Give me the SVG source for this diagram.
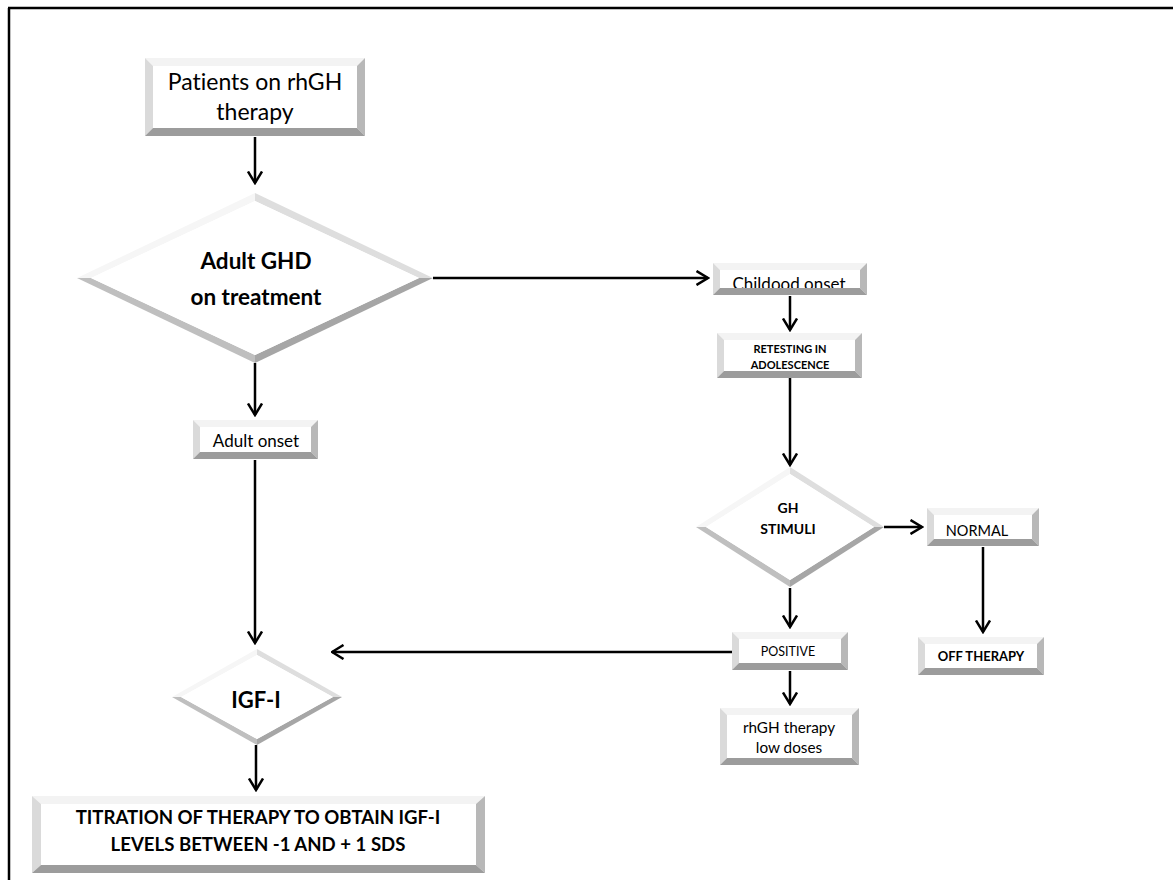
<svg xmlns="http://www.w3.org/2000/svg" width="1173" height="880" viewBox="0 0 1173 880">
<style>
.bt{fill:#f3f3f3}.bl{fill:#dadada}.br{fill:#b8b8b8}.bb{fill:#9c9c9c}
.face{fill:#ffffff}
.dtl{fill:#f6f6f6}.dtr{fill:#dedede}.dbr{fill:#a6a6a6}.dbl{fill:#bfbfbf}
text{font-family:Lato,"Open Sans","Liberation Sans",sans-serif;fill:#000;text-anchor:middle;font-variant-ligatures:none}
.b{font-weight:bold}
.c line{stroke:#000;stroke-width:2.5;fill:none;marker-end:url(#a)}
</style>
<defs>
<marker id="a" viewBox="0 0 14 16" refX="12.5" refY="8" markerWidth="14" markerHeight="16" markerUnits="userSpaceOnUse" orient="auto">
<path d="M1,1 L12.5,8 L1,15" fill="none" stroke="#000" stroke-width="2.5"/>
</marker>
</defs>
<rect width="1173" height="880" fill="#fff"/>
<g id="frame">
<line x1="8" y1="8" x2="1173" y2="8" stroke="#000" stroke-width="2.5"/>
<line x1="9" y1="8" x2="9" y2="880" stroke="#000" stroke-width="2.5"/>
</g>
<g class="c" id="connectors">
<line x1="255" y1="137" x2="255" y2="183"/>
<line x1="433" y1="278" x2="708" y2="278"/>
<line x1="255" y1="363" x2="255" y2="415"/>
<line x1="790" y1="296" x2="790" y2="330"/>
<line x1="790" y1="378" x2="790" y2="465"/>
<line x1="884" y1="527" x2="922" y2="527"/>
<line x1="983" y1="547" x2="983" y2="632"/>
<line x1="790" y1="588" x2="790" y2="627"/>
<line x1="732" y1="652" x2="332" y2="652"/>
<line x1="790" y1="671" x2="790" y2="704"/>
<line x1="255" y1="460" x2="255" y2="643"/>
<line x1="256" y1="745" x2="256" y2="790"/>
</g>
<g id="patients">
<polygon class="bt" points="145,58 365,58 357,66 153,66"/>
<polygon class="bl" points="145,58 153,66 153,128 145,136"/>
<polygon class="br" points="365,58 365,136 357,128 357,66"/>
<polygon class="bb" points="145,136 365,136 357,128 153,128"/>
<rect class="face" x="153" y="66" width="204" height="62"/>
<text x="255" y="90" font-size="23">Patients on rhGH</text>
<text x="255" y="120" font-size="23">therapy</text>
</g>
<g id="adult-ghd">
<polygon class="dtl" points="77,278 255,193 255,201 91,278"/>
<polygon class="dtr" points="255,193 433,278 419,278 255,201"/>
<polygon class="dbr" points="433,278 255,363 255,355 419,278"/>
<polygon class="dbl" points="255,363 77,278 91,278 255,355"/>
<polygon class="face" points="255,201 419,278 255,355 91,278"/>
<text x="256" y="269" font-size="22.5" class="b">Adult GHD</text>
<text x="256" y="305" font-size="22.5" class="b">on treatment</text>
</g>
<g id="childhood">
<polygon class="bt" points="713,263 867,263 860,270 720,270"/>
<polygon class="bl" points="713,263 720,270 720,288 713,295"/>
<polygon class="br" points="867,263 867,295 860,288 860,270"/>
<rect class="face" x="720" y="270" width="140" height="18"/>
<text x="789" y="290" font-size="17">Childood onset</text>
<polygon class="bb" points="713,295 867,295 860,288 720,288"/>
</g>
<g id="retesting">
<polygon class="bt" points="717,333 862,333 855,340 724,340"/>
<polygon class="bl" points="717,333 724,340 724,371 717,378"/>
<polygon class="br" points="862,333 862,378 855,371 855,340"/>
<polygon class="bb" points="717,378 862,378 855,371 724,371"/>
<rect class="face" x="724" y="340" width="131" height="31"/>
<text x="790" y="353" font-size="11" class="b">RETESTING IN</text>
<text x="790" y="369" font-size="11" class="b">ADOLESCENCE</text>
</g>
<g id="gh-stimuli">
<polygon class="dtl" points="696,527 790,467 790,474 706,527"/>
<polygon class="dtr" points="790,467 884,527 874,527 790,474"/>
<polygon class="dbr" points="884,527 790,587 790,580 874,527"/>
<polygon class="dbl" points="790,587 696,527 706,527 790,580"/>
<polygon class="face" points="790,474 874,527 790,580 706,527"/>
<text x="788" y="513" font-size="14" class="b">GH</text>
<text x="788" y="534" font-size="14" class="b">STIMULI</text>
</g>
<g id="normal">
<polygon class="bt" points="927,508 1039,508 1032,515 934,515"/>
<polygon class="bl" points="927,508 934,515 934,539 927,546"/>
<polygon class="br" points="1039,508 1039,546 1032,539 1032,515"/>
<polygon class="bb" points="927,546 1039,546 1032,539 934,539"/>
<rect class="face" x="934" y="515" width="98" height="24"/>
<text x="977" y="536" font-size="14.5">NORMAL</text>
</g>
<g id="off-therapy">
<polygon class="bt" points="918,637 1044,637 1037,644 925,644"/>
<polygon class="bl" points="918,637 925,644 925,668 918,675"/>
<polygon class="br" points="1044,637 1044,675 1037,668 1037,644"/>
<polygon class="bb" points="918,675 1044,675 1037,668 925,668"/>
<rect class="face" x="925" y="644" width="112" height="24"/>
<text x="981" y="661" font-size="13" class="b">OFF THERAPY</text>
</g>
<g id="positive">
<polygon class="bt" points="732,632 848,632 841,639 739,639"/>
<polygon class="bl" points="732,632 739,639 739,663 732,670"/>
<polygon class="br" points="848,632 848,670 841,663 841,639"/>
<polygon class="bb" points="732,670 848,670 841,663 739,663"/>
<rect class="face" x="739" y="639" width="102" height="24"/>
<text x="788" y="656" font-size="12.5">POSITIVE</text>
</g>
<g id="rhgh-low">
<polygon class="bt" points="720,708 859,708 852,715 727,715"/>
<polygon class="bl" points="720,708 727,715 727,758 720,765"/>
<polygon class="br" points="859,708 859,765 852,758 852,715"/>
<polygon class="bb" points="720,765 859,765 852,758 727,758"/>
<rect class="face" x="727" y="715" width="125" height="43"/>
<text x="789" y="733" font-size="15.3">rhGH therapy</text>
<text x="789" y="753" font-size="15.3">low doses</text>
</g>
<g id="adult-onset">
<polygon class="bt" points="193,420 318,420 311,427 200,427"/>
<polygon class="bl" points="193,420 200,427 200,452 193,459"/>
<polygon class="br" points="318,420 318,459 311,452 311,427"/>
<polygon class="bb" points="193,459 318,459 311,452 200,452"/>
<rect class="face" x="200" y="427" width="111" height="25"/>
<text x="256" y="447" font-size="17">Adult onset</text>
</g>
<g id="igf">
<polygon class="dtl" points="172,697 257,649 257,655 181,697"/>
<polygon class="dtr" points="257,649 342,697 333,697 257,655"/>
<polygon class="dbr" points="342,697 257,745 257,739 333,697"/>
<polygon class="dbl" points="257,745 172,697 181,697 257,739"/>
<polygon class="face" points="257,655 333,697 257,739 181,697"/>
<text x="256" y="708" font-size="22" class="b">IGF-I</text>
</g>
<g id="titration">
<polygon class="bt" points="32,796 485,796 476,804 41,804"/>
<polygon class="bl" points="32,796 41,804 41,865 32,873"/>
<polygon class="br" points="485,796 485,873 476,865 476,804"/>
<polygon class="bb" points="32,873 485,873 476,865 41,865"/>
<rect class="face" x="41" y="804" width="435" height="61"/>
<text x="258" y="824" font-size="18.6" class="b">TITRATION OF THERAPY TO OBTAIN IGF-I</text>
<text x="258" y="851" font-size="18.6" class="b">LEVELS BETWEEN -1 AND + 1 SDS</text>
</g>
</svg>
